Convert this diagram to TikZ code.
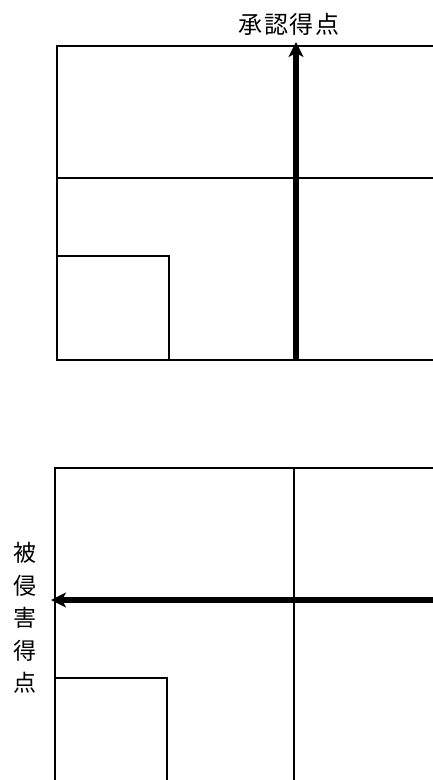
\documentclass[tikz,border=0pt]{standalone}
\usepackage{fontspec}
\newfontfamily\cjk{Noto Sans CJK JP}
\usetikzlibrary{arrows.meta}
\begin{document}
\begin{tikzpicture}[x=1pt, y=-1pt,
    grid/.style={line width=2pt},
    axisarrow/.style={line width=5.5pt, -{Stealth[length=15pt,width=15pt,inset=4pt]}},
    every node/.style={font=\cjk\fontsize{23}{32.5}\selectfont, inner sep=0pt}]
  \useasboundingbox (0,0) rectangle (433,780);

  % upper chart
  \draw[grid] (433,46) -- (57,46) -- (57,360) -- (433,360);
  \draw[grid] (57,178) -- (433,178);
  \draw[grid] (57,256) -- (169,256) -- (169,360);
  \coordinate (upfoot) at (296,360);
  \coordinate (uptip) at (296,42);
  \draw[axisarrow] (upfoot) -- (uptip);
  \node[font=\cjk\addfontfeatures{LetterSpace=6}\fontsize{24}{26}\selectfont] (uplabel) at (289,24) {承認得点};

  % lower chart
  \draw[grid] (433,468) -- (55,468) -- (55,780);
  \draw[grid] (294,468) -- (294,780);
  \draw[grid] (55,678) -- (167,678) -- (167,780);
  \coordinate (lowfoot) at (433,600);
  \coordinate (lowtip) at (51,600);
  \draw[axisarrow] (lowfoot) -- (lowtip);
  \node[align=center] (lowlabel) at (25,618) {被\\侵\\害\\得\\点};
\end{tikzpicture}
\end{document}
